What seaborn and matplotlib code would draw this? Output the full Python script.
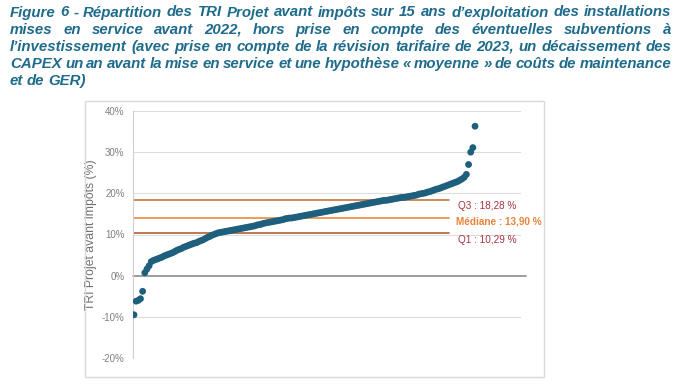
import numpy as np
import pandas as pd
import seaborn as sns
import matplotlib.pyplot as plt
from matplotlib.patches import Rectangle

# TRI projet avant impôts (%) des installations, triés
tri = [-9.5, -6.2, -6.0, -5.6, -3.8, 0.7, 1.6, 2.4, 3.4, 3.7,
       3.9, 4.1, 4.3, 4.5, 4.8, 5.0, 5.2, 5.4, 5.6, 5.9,
       6.2, 6.4, 6.6, 6.9, 7.1, 7.3, 7.5, 7.7, 7.9, 8.0,
       8.3, 8.5, 8.7, 9.0, 9.3, 9.5, 9.8, 10.0, 10.2, 10.4,
       10.5, 10.6, 10.7, 10.8, 10.9, 11.0, 11.1, 11.2, 11.3, 11.4,
       11.5, 11.6, 11.7, 11.8, 11.9, 12.0, 12.1, 12.3, 12.4, 12.5,
       12.7, 12.8, 12.9, 13.0, 13.1, 13.2, 13.3, 13.4, 13.5, 13.6,
       13.8, 13.9, 14.0, 14.0, 14.1, 14.2, 14.3, 14.4, 14.5, 14.6,
       14.7, 14.8, 14.9, 15.0, 15.1, 15.2, 15.3, 15.4, 15.5, 15.6,
       15.7, 15.8, 15.9, 16.0, 16.1, 16.2, 16.3, 16.4, 16.5, 16.6,
       16.7, 16.8, 16.9, 17.0, 17.1, 17.2, 17.3, 17.4, 17.5, 17.6,
       17.7, 17.8, 17.9, 18.0, 18.1, 18.2, 18.3, 18.3, 18.4, 18.5,
       18.6, 18.7, 18.8, 18.9, 19.0, 19.0, 19.1, 19.2, 19.3, 19.4,
       19.5, 19.6, 19.8, 19.9, 20.0, 20.1, 20.3, 20.4, 20.6, 20.8,
       21.0, 21.1, 21.3, 21.5, 21.7, 21.9, 22.1, 22.3, 22.5, 22.7,
       22.9, 23.2, 23.5, 23.9, 24.6, 27.0, 30.0, 31.1, 36.3]

stats_names = ['Q3 : 18,28 %', 'Médiane : 13,90 %', 'Q1 : 10,29 %']
stats_values = [18.28, 13.90, 10.29]
stats_line_colors = ['#c8733f', '#ec8a3e', '#b5602f']
stats_text_colors = ['#a8343f', '#e8843a', '#a8343f']

yticks = [-20, -10, 0, 10, 20, 30, 40]
ytick_labels = ['-20%', '-10%', '0%', '10%', '20%', '30%', '40%']

title_lines = [
    'Figure 6 - Répartition des TRI Projet avant impôts sur 15 ans d’exploitation des installations',
    'mises en service avant 2022, hors prise en compte des éventuelles subventions à',
    'l’investissement (avec prise en compte de la révision tarifaire de 2023, un décaissement des',
    'CAPEX un an avant la mise en service et une hypothèse « moyenne » de coûts de maintenance',
    'et de GER)',
]

df = pd.DataFrame({'rang': np.arange(len(tri)), 'tri': tri})

sns.set_style('white')
plt.rcParams['font.family'] = ['Liberation Sans', 'DejaVu Sans']

W, H = 680, 391
fig = plt.figure(figsize=(W / 100, H / 100), dpi=100)

# cadre du graphique
fig.patches.append(Rectangle((85 / W, 1 - 377 / H), 459 / W, 276 / H,
                             transform=fig.transFigure, fill=False,
                             edgecolor='#d9d9d9', linewidth=1))

ax = fig.add_axes([133 / W, 1 - 358 / H, 388 / W, 247 / H])
ax.set_ylim(-20, 40)
ax.set_xlim(-0.46, 179.3)

for v in yticks:
    if v != 0:
        ax.axhline(v, color='#dcdcdc', linewidth=0.8, zorder=0)
ax.axhline(0, xmin=0, xmax=1.013, color='#8c8c8c', linewidth=1.2, zorder=1, clip_on=False)

for val, lc in zip(stats_values, stats_line_colors):
    ax.axhline(val, xmin=0, xmax=0.814, color=lc, linewidth=1.2, zorder=2)

sns.scatterplot(data=df, x='rang', y='tri', ax=ax, color='#1d5f7c',
                s=24, edgecolor='none', zorder=3, legend=False)

ylab_y = [205.7, 221.7, 240]
ylab_x = [458, 456.5, 458]
for name, tc, px, py in zip(stats_names, stats_text_colors, ylab_x, ylab_y):
    fig.text(px / W, 1 - py / H, name, color=tc, fontsize=7.2, va='center', ha='left',
             fontweight='bold' if name.startswith('Médiane') else 'normal')

ax.set_yticks(yticks)
ax.set_yticklabels(ytick_labels, color='#7f7f7f', fontsize=7)
ax.tick_params(axis='y', length=0, pad=6)
ax.set_xticks([])
ax.set_xlabel('')
ax.set_ylabel('TRI Projet avant impôts (%)', color='#6f6f6f', fontsize=8.8)
ax.yaxis.set_label_coords((97 - 133) / 388, 0.5)
for side in ['top', 'right', 'bottom']:
    ax.spines[side].set_visible(False)
ax.spines['left'].set_color('#d0d0d0')
ax.spines['left'].set_linewidth(0.8)

# titre justifié
renderer = fig.canvas.get_renderer()
x_left, x_right = 10, 671
title_kw = dict(fontstyle='italic', fontweight='bold', color='#1f6b8c', va='center', ha='left')

# taille de police choisie pour que la 1re ligne remplisse la largeur
probe = fig.text(0, 0, title_lines[0], fontsize=10, **title_kw)
fs = 10 * (x_right - x_left) / probe.get_window_extent(renderer).width * 0.99
probe.remove()

for k, line in enumerate(title_lines):
    words = line.split(' ')
    yy = 1 - (12.5 + 17.2 * k) / H
    texts = [fig.text(0, yy, w, fontsize=fs, **title_kw) for w in words]
    widths = [t.get_window_extent(renderer).width for t in texts]
    if k < len(title_lines) - 1:
        gap = (x_right - x_left - sum(widths)) / (len(words) - 1)
    else:
        gap = 3.5
    x = x_left
    for t, w in zip(texts, widths):
        t.set_x(x / W)
        x += w + gap

fig.savefig('out.png', dpi=100)
